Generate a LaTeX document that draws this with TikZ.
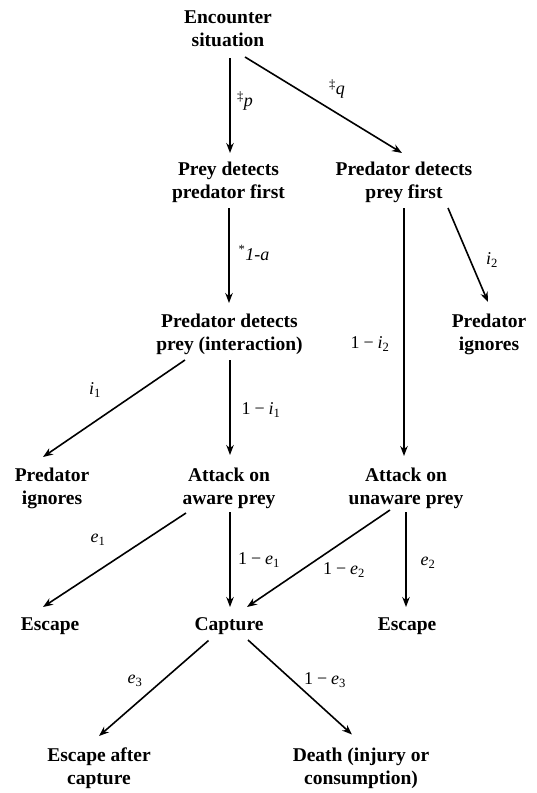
\documentclass[tikz,border=0pt]{standalone}
\usepackage{fontspec}
\setmainfont{Liberation Serif}
\usetikzlibrary{arrows.meta}
\tikzset{
  st/.style={align=center, inner sep=0pt, font=\bfseries\fontsize{19.5}{23}\selectfont},
  lbl/.style={inner sep=0pt, font=\fontsize{18}{20}\selectfont},
  arr/.style={line width=1.6pt, -{Stealth[length=10pt,width=7.5pt]}},
}
\newcommand\myminus{\hspace{0.22em}−\hspace{0.22em}}
\begin{document}
\begin{tikzpicture}[x=1pt,y=-1pt]
\fill[white] (0,0) rectangle (536,793);
\useasboundingbox (0,0) rectangle (536,793);
% states
\node[st] (enc) at (228,29) {Encounter\\situation};
\node[st] (pdf) at (228.5,182) {Prey detects\\predator first};
\node[st] (pdp) at (404,182) {Predator detects\\prey first};
\node[st] (int) at (229.5,334.5) {Predator detects\\prey (interaction)};
\node[st] (ign2) at (489,334.5) {Predator\\ignores};
\node[st] (ign1) at (52,488) {Predator\\ignores};
\node[st] (aware) at (229,488) {Attack on\\aware prey};
\node[st] (unaware) at (406,488) {Attack on\\unaware prey};
\node[st] (esc1) at (50,626) {Escape};
\node[st] (cap) at (229,626) {Capture};
\node[st] (esc2) at (407,626) {Escape};
\node[st] (esc3) at (99,768) {Escape after\\capture};
\node[st] (death) at (361,768) {Death (injury or\\consumption)};
% connectors
\draw[arr] ([shift={(2,29)}]enc.center) -- ([shift={(1.5,-29)}]pdf.center);
\draw[arr] ([shift={(17,28)}]enc.center) -- ([shift={(-2,-29)}]pdp.center);
\draw[arr] ([shift={(0.5,26)}]pdf.center) -- ([shift={(-0.5,-31.5)}]int.center);
\draw[arr] ([shift={(44,26)}]pdp.center) -- ([shift={(-1,-32.5)}]ign2.center);
\draw[arr] ([shift={(0,26)}]pdp.center) -- ([shift={(-2,-32)}]unaware.center);
\draw[arr] ([shift={(-44.5,25.5)}]int.center) -- ([shift={(-9,-31)}]ign1.center);
\draw[arr] ([shift={(0.5,25.5)}]int.center) -- ([shift={(1,-33)}]aware.center);
\draw[arr] ([shift={(-43,25)}]aware.center) -- ([shift={(-7,-19)}]esc1.center);
\draw[arr] ([shift={(1,24)}]aware.center) -- ([shift={(1,-19)}]cap.center);
\draw[arr] ([shift={(-16,22)}]unaware.center) -- ([shift={(18,-19)}]cap.center);
\draw[arr] ([shift={(0,24)}]unaware.center) -- ([shift={(-1,-19)}]esc2.center);
\draw[arr] ([shift={(-20.5,14.5)}]cap.center) -- ([shift={(0,-32)}]esc3.center);
\draw[arr] ([shift={(19,14)}]cap.center) -- ([shift={(-9,-33.5)}]death.center);
% labels
\node[lbl] (lp) at (245,101) {\textsuperscript{‡}\textit{p}};
\node[lbl] (lq) at (337,89) {\textsuperscript{‡}\textit{q}};
\node[lbl] (la) at (254,253) {\textsuperscript{*}\textit{1-a}};
\node[lbl] (li2) at (492,260) {\textit{i}\textsubscript{2}};
\node[lbl] (lni2) at (370,344) {1\myminus\textit{i}\textsubscript{2}};
\node[lbl] (li1) at (95,390) {\textit{i}\textsubscript{1}};
\node[lbl] (lni1) at (261,410) {1\myminus\textit{i}\textsubscript{1}};
\node[lbl] (le1) at (98,540) {\textit{e}\textsubscript{1}};
\node[lbl] (lne1) at (259,560) {1\myminus\textit{e}\textsubscript{1}};
\node[lbl] (lne2) at (344,570) {1\myminus\textit{e}\textsubscript{2}};
\node[lbl] (le2) at (428,563) {\textit{e}\textsubscript{2}};
\node[lbl] (le3) at (135,681) {\textit{e}\textsubscript{3}};
\node[lbl] (lne3) at (325,680) {1\myminus\textit{e}\textsubscript{3}};
\end{tikzpicture}
\end{document}
